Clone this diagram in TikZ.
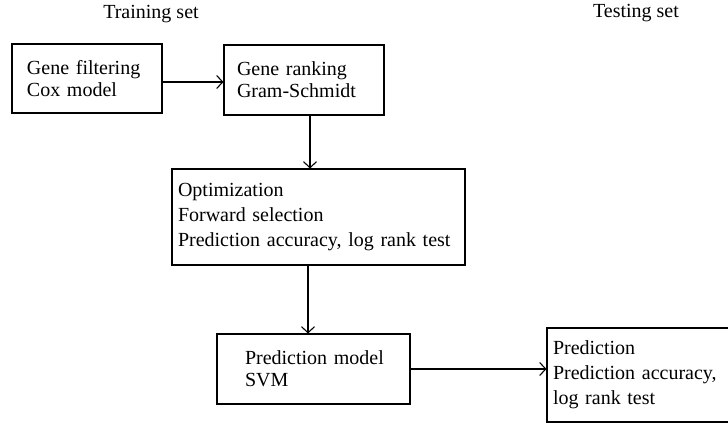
\documentclass[tikz,border=0pt]{standalone}
\usepackage{fontspec}
\setmainfont{Liberation Serif}
\usetikzlibrary{arrows.meta,calc}
\tikzset{
  box/.style={draw, line width=1.1pt, rectangle, align=left, anchor=center, font=\fontsize{20}{22}\selectfont},
  lbl/.style={font=\fontsize{20}{24}\selectfont, inner sep=0pt},
  conn/.style={line width=1.1pt, -{Straight Barb[length=6pt,width=13pt,line width=1.1pt]}}
}
\begin{document}
\begin{tikzpicture}[x=1pt,y=1pt]
\useasboundingbox (0,0) rectangle (728,-423);
\node[lbl] (train) at (151,-14) {Training set};
\node[lbl] (test) at (636,-13) {Testing set};
\node[box, minimum width=150pt, minimum height=69pt, inner xsep=15pt, text width=120pt] (b1) at (87,-78.5) {Gene filtering\\Cox model};
\node[box, minimum width=160pt, minimum height=70pt, inner xsep=13pt, text width=134pt] (b2) at (304,-80) {Gene ranking\\Gram-Schmidt};
\node[box, minimum width=293pt, minimum height=96pt, inner xsep=6pt, text width=281pt, font=\fontsize{20}{25}\selectfont] (b3) at (318.5,-217) {Optimization\\Forward selection\\Prediction accuracy, log rank test};
\node[box, minimum width=193pt, minimum height=70pt, inner xsep=14pt, text width=165pt] (b4) at (313.5,-369) {\hspace*{14pt}Prediction model\\\hspace*{14pt}SVM};
\node[box, minimum width=200pt, minimum height=94pt, inner xsep=6pt, text width=188pt, font=\fontsize{20}{25}\selectfont] (b5) at (647,-375) {Prediction\\Prediction accuracy,\\log rank test};
\coordinate (a1) at ($(b1.east)+(0,-3.5)$);
\draw[conn] (a1) -- (a1 -| b2.west);
\draw[conn] ([xshift=6pt]b2.south) -- ([xshift=6pt]b2.south |- b3.north);
\draw[conn] ([xshift=-5.5pt]b4.north |- b3.south) -- ([xshift=-5.5pt]b4.north);
\draw[conn] (b4.east) -- (b4.east -| b5.west);
\end{tikzpicture}
\end{document}
